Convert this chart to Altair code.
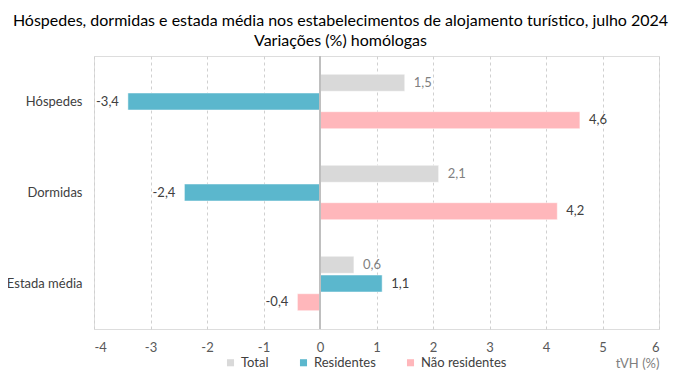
import altair as alt
import pandas as pd

categories = ["Hóspedes", "Dormidas", "Estada média"]
series = ["Total", "Residentes", "Não residentes"]
total = [1.5, 2.1, 0.6]
residentes = [-3.4, -2.4, 1.1]
nao_residentes = [4.6, 4.2, -0.4]
colors = ["#d9d9d9", "#5bb7cd", "#ffb7bb"]
label_colors = ["#7f7f7f", "#404040", "#404040"]
x_ticks = [-4, -3, -2, -1, 0, 1, 2, 3, 4, 5, 6]

rows = []
for i, c in enumerate(categories):
    for s, vals in zip(series, [total, residentes, nao_residentes]):
        rows.append({"cat": c, "serie": s, "v": vals[i]})
df = pd.DataFrame(rows)

FONT = "Lato"

y = alt.Y("cat:N", sort=categories,
          scale=alt.Scale(paddingInner=0, paddingOuter=0),
          axis=alt.Axis(title=None, domain=False, ticks=False, labelPadding=12,
                        labelFontSize=13, labelColor="#404040", labelFont=FONT,
                        grid=False))
yoff = alt.YOffset("serie:N", sort=series,
                   scale=alt.Scale(paddingInner=0.1, paddingOuter=0.98))
x = alt.X("v:Q", scale=alt.Scale(domain=[-4, 6], nice=False),
          axis=alt.Axis(title="tVH (%)", titleAnchor="end", titleFontWeight="normal",
                        titleFontSize=13, titleColor="#7f7f7f", titleFont=FONT,
                        titlePadding=3,
                        values=x_ticks, labelExpr="'' + datum.value",
                        labelFontSize=13,
                        labelColor="#595959", labelFont=FONT, labelPadding=12,
                        domain=False, ticks=False, grid=True, gridDash=[3, 3],
                        gridColor="#d0d0d0", gridWidth=1))

base = alt.Chart(df)

bars = base.mark_bar(size=17, stroke="white", strokeWidth=0.5).encode(
    x=x, y=y, yOffset=yoff,
    color=alt.Color("serie:N", sort=series,
                    scale=alt.Scale(domain=series, range=colors),
                    legend=alt.Legend(title=None, orient="none", direction="horizontal",
                                      legendX=130, legendY=300, symbolType="square",
                                      symbolSize=50, symbolStrokeWidth=0,
                                      labelFontSize=13, labelColor="#404040",
                                      labelFont=FONT, columnPadding=28, labelOffset=4)),
)

zero = alt.Chart(pd.DataFrame({"z": [0]})).mark_rule(color="#bfbfbf", strokeWidth=2).encode(
    x=alt.X("z:Q", scale=alt.Scale(domain=[-4, 6], nice=False))
)

lab_color = alt.Color("serie:N", sort=series,
                      scale=alt.Scale(domain=series, range=label_colors), legend=None)
lab_base = base.transform_calculate(
    lab="replace(replace(format(datum.v, '.1f'), '.', ','), '\u2212', '-')"
)
labels_pos = lab_base.transform_filter("datum.v >= 0").mark_text(
    fontSize=13, font=FONT, baseline="middle", align="left", dx=9
).encode(x=x, y=y, yOffset=yoff, text="lab:N", color=lab_color)
labels_neg = lab_base.transform_filter("datum.v < 0").mark_text(
    fontSize=13, font=FONT, baseline="middle", align="right", dx=-9
).encode(x=x, y=y, yOffset=yoff, text="lab:N", color=lab_color)

chart = alt.layer(bars, zero, labels_pos, labels_neg).resolve_scale(color="independent").properties(
    width=565, height=273,
    autosize=alt.AutoSizeParams(type="none"),
    padding={"left": 86, "top": 48, "right": 13, "bottom": 43},
    title=alt.TitleParams(
        text=["Hóspedes, dormidas e estada média nos estabelecimentos de alojamento turístico, julho 2024",
              "Variações (%) homólogas"],
        fontSize=16, font=FONT, fontWeight="normal", color="#000000",
        anchor="middle", dx=-36, offset=6, lineHeight=20),
).configure_view(stroke=None).configure(background="white")

chart.save("out.html", embed_options={"renderer": "svg", "actions": False})
